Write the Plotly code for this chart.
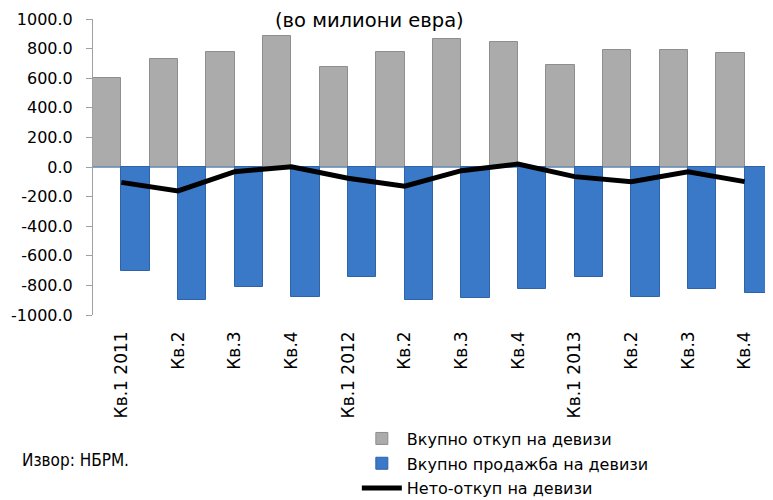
import plotly.graph_objects as go

# Quarterly data, in millions of euro
quarters = ["Кв.1 2011", "Кв.2", "Кв.3", "Кв.4",
            "Кв.1 2012", "Кв.2", "Кв.3", "Кв.4",
            "Кв.1 2013", "Кв.2", "Кв.3", "Кв.4"]
purchases = [600, 732, 777, 887, 674, 775, 865, 842, 689, 790, 790, 768]
sales = [-700, -899, -809, -876, -741, -899, -885, -824, -743, -876, -824, -854]
net = [-104, -162, -32, 2, -76, -130, -25, 20, -65, -99, -32, -99]

y_ticks = [-1000, -800, -600, -400, -200, 0, 200, 400, 600, 800, 1000]
# plain hyphen as minus sign, like the original
y_labels = [f"{v:.1f}" for v in y_ticks]

pos = list(range(len(quarters)))

fig = go.Figure()

fig.add_trace(go.Bar(
    x=pos, y=purchases, name="Вкупно откуп на девизи", legendgroup="a",
    marker=dict(color="#ABABAB", line=dict(color="#8E8E8E", width=1)),
))
fig.add_trace(go.Bar(
    x=pos, y=sales, name="Вкупно продажба на девизи", legendgroup="b",
    marker=dict(color="#3A78C8", line=dict(color="#2F63A9", width=1)),
))
fig.add_trace(go.Scatter(
    x=pos, y=net, name="Нето-откуп на девизи", legendgroup="c",
    mode="lines", line=dict(color="black", width=5),
))

# page body adds an 8px margin, so the figure is sized to fit inside it
fig.update_layout(
    width=765, height=492,
    margin=dict(l=85, r=0, t=11, b=185, autoexpand=False),
    paper_bgcolor="white", plot_bgcolor="white",
    barmode="group", bargap=0, bargroupgap=0,
    font=dict(family="DejaVu Sans", size=16, color="black"),
    showlegend=True,
    legend=dict(
        x=0.388, y=-0.36, xanchor="left", yanchor="top",
        font=dict(family="DejaVu Sans", size=16),
        tracegroupgap=1, itemwidth=40,
        bgcolor="rgba(0,0,0,0)",
    ),
    annotations=[
        dict(text="(во милиони евра)", x=0.407, y=1.0, xref="paper", yref="paper",
             xanchor="center", yanchor="middle", yshift=-1, showarrow=False,
             font=dict(family="DejaVu Sans", size=19.5)),
        dict(text="Извор: НБРМ.", x=-0.107, y=-0.49, xref="paper", yref="paper",
             xanchor="left", yanchor="middle", showarrow=False,
             font=dict(family="DejaVu Sans Condensed", size=17)),
    ],
)

fig.update_xaxes(
    range=[-0.5, len(quarters) - 0.5],
    tickmode="array", tickvals=pos, ticktext=quarters,
    tickangle=-90, ticks="", showgrid=False, showline=False,
    zeroline=False, tickfont=dict(size=17), ticklabelstandoff=12,
)
fig.update_yaxes(
    range=[-1000, 1000], tickmode="array", tickvals=y_ticks, ticktext=y_labels,
    showgrid=False, showline=True, linecolor="#A0A0A0", linewidth=1,
    ticks="outside", ticklen=6, tickcolor="#A0A0A0", ticklabelstandoff=10,
    zeroline=True, zerolinecolor="#6FA8E8", zerolinewidth=2,
    tickfont=dict(size=16),
)

fig.write_html("out.html")
